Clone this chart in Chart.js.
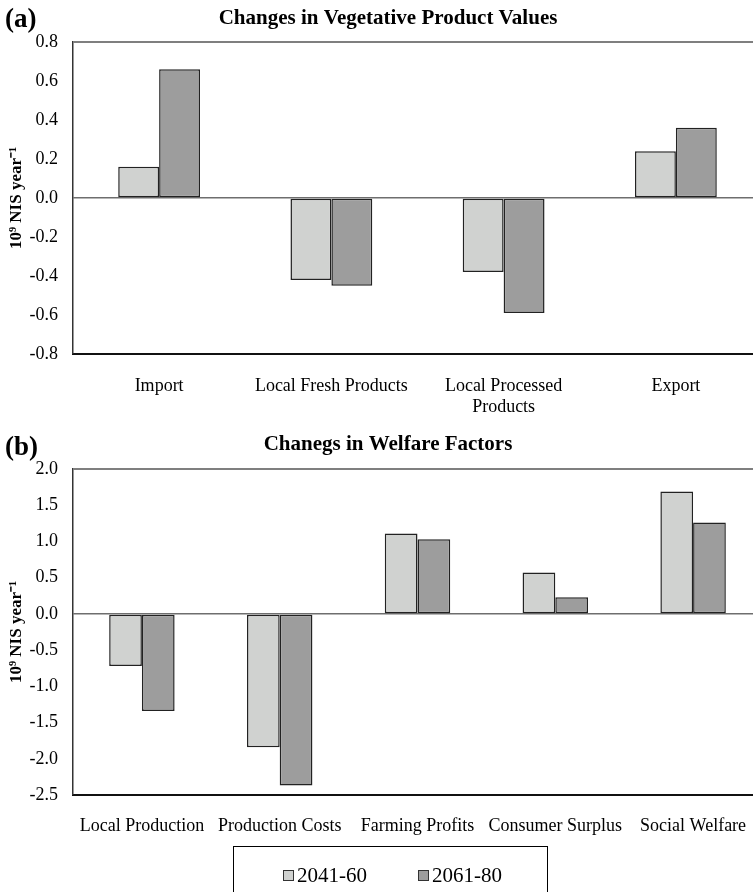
<!DOCTYPE html>
<html><head><meta charset="utf-8">
<script src="https://cdn.jsdelivr.net/npm/chart.js@4/dist/chart.umd.min.js"></script>
<style>
html,body{margin:0;padding:0;background:#fff;overflow:hidden;}
#wrap{position:relative;width:753px;height:892px;overflow:hidden;background:#fff;}
#ca{position:absolute;left:0;top:0;}
#cb{position:absolute;left:0;top:420px;}
</style></head><body>
<div id="wrap"><canvas id="ca" width="762" height="415"></canvas><canvas id="cb" width="762" height="472"></canvas></div>
<script>
// ---- data ----
const seriesNames = ['2041-60', '2061-80'];
const catsA = ['Import', 'Local Fresh Products', ['Local Processed', 'Products'], 'Export'];
const a2041 = [0.16, -0.42, -0.38, 0.24];
const a2061 = [0.66, -0.45, -0.59, 0.36];
const catsB = ['Local Production', 'Production Costs', 'Farming Profits', 'Consumer Surplus', 'Social Welfare'];
const b2041 = [-0.72, -1.84, 1.11, 0.57, 1.69];
const b2061 = [-1.34, -2.37, 1.03, 0.23, 1.26];
const yTicksA = [-0.8, 0.8, 0.2];   // min, max, step
const yTicksB = [-2.5, 2.0, 0.5];
const titleA = 'Changes in Vegetative Product Values';
const titleB = 'Chanegs in Welfare Factors';
const panelA = '(a)';
const panelB = '(b)';
const yTitle = '10⁹ NIS year⁻¹';

// ---- styles ----
const FONT = '"Liberation Serif", "Times New Roman", serif';
const fills = ['#d0d2d0', '#9d9d9d'];
Chart.defaults.color = '#000';
Chart.defaults.font.family = FONT;

const deco = {
  id: 'deco',
  beforeDatasetsDraw(chart, args, o) {
    const { ctx, chartArea: ca } = chart;
    ctx.save();
    ctx.strokeStyle = '#7f7f7f'; ctx.lineWidth = 2;
    ctx.beginPath(); ctx.moveTo(ca.left, ca.top); ctx.lineTo(ca.right + 20, ca.top); ctx.stroke();
    ctx.restore();
  },
  afterDraw(chart, args, o) {
    const ctx = chart.ctx;
    ctx.save();
    ctx.fillStyle = '#000';
    ctx.textBaseline = 'alphabetic';
    ctx.font = 'bold 27px ' + FONT;
    ctx.textAlign = 'left';
    ctx.fillText(o.panel, 5, o.panelY);
    ctx.font = 'bold 21px ' + FONT;
    ctx.textAlign = 'center';
    ctx.fillText(o.title, 388, o.titleY);
    if (o.legend) {
      ctx.strokeStyle = '#000'; ctx.lineWidth = 1;
      ctx.strokeRect(233.5, o.legend.top + 0.5, 314, 100);
      chart.data.datasets.forEach((ds, i) => {
        const bx = o.legend.xs[i], cy = o.legend.cy;
        ctx.fillStyle = ds.backgroundColor;
        ctx.fillRect(bx, cy - 5, 11, 11);
        ctx.strokeStyle = '#333'; ctx.lineWidth = 1;
        ctx.strokeRect(bx + 0.5, cy - 4.5, 10, 10);
        ctx.fillStyle = '#000';
        ctx.font = '21px ' + FONT;
        ctx.textAlign = 'left';
        ctx.textBaseline = 'middle';
        ctx.fillText(ds.label, bx + 14, cy + 1);
      });
    }
    ctx.restore();
  }
};

function makeChart(id, cats, s1, s2, yt, padTop, xHeight, tickPad, decoOpts) {
  return new Chart(document.getElementById(id), {
    type: 'bar',
    data: {
      labels: cats,
      datasets: [s1, s2].map((d, i) => ({
        label: seriesNames[i], data: d,
        backgroundColor: fills[i], borderColor: '#222', borderWidth: 1.5,
        borderSkipped: false, categoryPercentage: 0.475, barPercentage: 1
      }))
    },
    options: {
      responsive: false, animation: false, devicePixelRatio: 1, events: [],
      layout: { padding: { top: padTop, left: 0, right: 0, bottom: 0 } },
      plugins: { legend: { display: false }, tooltip: { enabled: false }, deco: decoOpts },
      scales: {
        x: {
          grid: { display: false },
          border: { display: true, color: '#111', width: 2 },
          ticks: { font: { size: 18, family: FONT }, padding: tickPad, maxRotation: 0, autoSkip: false, color: '#000' },
          afterFit(s) { s.height = xHeight; }
        },
        y: {
          min: yt[0], max: yt[1],
          grid: {
            drawTicks: false,
            color: c => Math.abs(c.tick.value) < 1e-9 ? '#6e6e6e' : 'rgba(0,0,0,0)',
            lineWidth: c => Math.abs(c.tick.value) < 1e-9 ? 1.5 : 0
          },
          border: { display: true, color: '#333', width: 1.5 },
          ticks: {
            stepSize: yt[2], padding: 15, color: '#000',
            font: { size: 18, family: FONT },
            callback: v => (Math.abs(v) < 1e-9 ? 0 : v).toFixed(1)
          },
          title: { display: true, text: yTitle, font: { size: 17, weight: 'bold', family: FONT }, padding: { top: 6, bottom: 0 }, color: '#000' },
          afterFit(s) { s.width = 73; }
        }
      }
    },
    plugins: [deco]
  });
}

makeChart('ca', catsA, a2041, a2061, yTicksA, 42, 61, 13,
  { panel: panelA, panelY: 27, title: titleA, titleY: 24 });
makeChart('cb', catsB, b2041, b2061, yTicksB, 49, 97, 12,
  { panel: panelB, panelY: 35, title: titleB, titleY: 30, legend: { top: 426, cy: 455, xs: [283, 418] } });
</script>
</body></html>
